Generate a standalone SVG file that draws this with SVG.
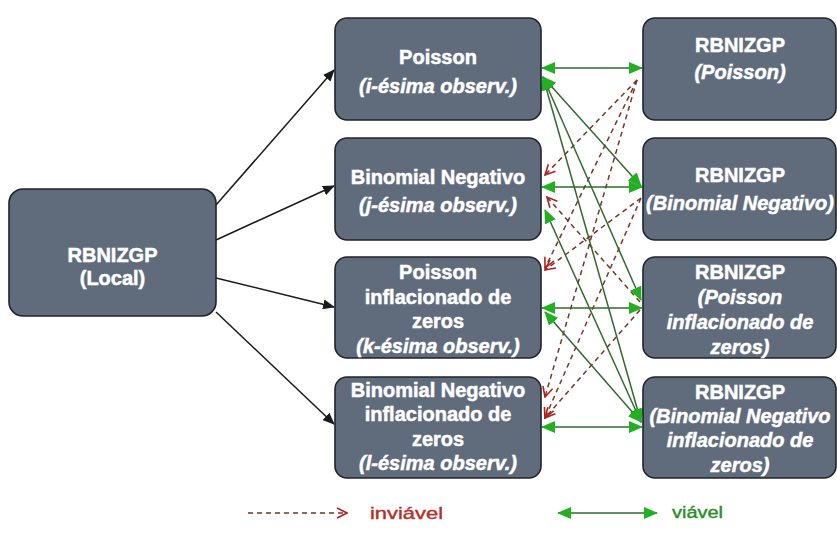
<svg xmlns="http://www.w3.org/2000/svg" width="837" height="549" viewBox="0 0 837 549">
<style>
.box{fill:#606c7c;stroke:#1f2328;stroke-width:1.6}
.t{font-family:"Liberation Sans",Arial,sans-serif;font-size:20px;font-weight:bold;fill:#ffffff;text-anchor:middle;stroke:#ffffff;stroke-width:0.5}
.i{font-style:italic}
.blk{stroke:#1a1a1a;stroke-width:1.5;fill:none;marker-end:url(#ab)}
.grn{stroke:#2f6a2f;stroke-width:1.5;fill:none;marker-start:url(#ag);marker-end:url(#ag)}
.red{stroke:#7a3326;stroke-width:1.5;stroke-dasharray:5 4;fill:none;marker-end:url(#ar)}
.leg{font-family:"Liberation Sans",Arial,sans-serif;font-size:17px;stroke-width:0.4}
</style>
<defs>
<marker id="ab" markerUnits="userSpaceOnUse" markerWidth="12" markerHeight="10" refX="11" refY="5" orient="auto"><path d="M0,0 L12,5 L0,10 z" fill="#1a1a1a"/></marker>
<marker id="ag" markerUnits="userSpaceOnUse" markerWidth="14" markerHeight="12" refX="13" refY="6" orient="auto-start-reverse"><path d="M0,0 L14,6 L0,12 z" fill="#22b022"/></marker>
<marker id="ar" markerUnits="userSpaceOnUse" markerWidth="12" markerHeight="12" refX="11" refY="6" orient="auto"><path d="M1,1 L11,6 L1,11" fill="none" stroke="#b02020" stroke-width="1.6"/></marker>
</defs>
<rect width="837" height="549" fill="#ffffff"/>
<g id="connectors">
<line class="blk" x1="216" y1="205" x2="334" y2="70"/>
<line class="blk" x1="216" y1="240" x2="334" y2="186"/>
<line class="blk" x1="216" y1="278" x2="334" y2="307"/>
<line class="blk" x1="216" y1="312" x2="334" y2="424"/>
<line class="red" x1="637" y1="80" x2="545" y2="175"/>
<line class="red" x1="637" y1="80" x2="545" y2="268"/>
<line class="red" x1="637" y1="80" x2="545" y2="397"/>
<line class="red" x1="641" y1="198" x2="545" y2="270"/>
<line class="red" x1="641" y1="198" x2="545" y2="418"/>
<line class="red" x1="640" y1="302" x2="547" y2="197"/>
<line class="red" x1="640" y1="310" x2="545" y2="418"/>
<line class="grn" x1="542" y1="68" x2="642" y2="68"/>
<line class="grn" x1="542" y1="187" x2="642" y2="187"/>
<line class="grn" x1="542" y1="308" x2="642" y2="308"/>
<line class="grn" x1="542" y1="427" x2="642" y2="427"/>
<line class="grn" x1="543" y1="77" x2="641" y2="186"/>
<line class="grn" x1="543" y1="77" x2="641" y2="300"/>
<line class="grn" x1="543" y1="77" x2="641" y2="422"/>
<line class="grn" x1="545" y1="210" x2="641" y2="422"/>
<line class="grn" x1="545" y1="312" x2="641" y2="422"/>
</g>
<g id="local">
<rect class="box" x="9" y="189" width="207" height="127" rx="14"/>
<text class="t" x="112.5" y="262">RBNIZGP</text>
<text class="t" x="112.5" y="285">(Local)</text>
</g>
<g id="m1">
<rect class="box" x="335" y="18" width="206" height="102" rx="12"/>
<text class="t" x="438" y="64">Poisson</text>
<text class="t i" x="438" y="93">(i-ésima observ.)</text>
</g>
<g id="m2">
<rect class="box" x="335" y="138" width="206" height="102" rx="12"/>
<text class="t" x="438" y="184">Binomial Negativo</text>
<text class="t i" x="438" y="212">(j-ésima observ.)</text>
</g>
<g id="m3">
<rect class="box" x="335" y="257" width="206" height="101" rx="12"/>
<text class="t" x="438" y="279">Poisson</text>
<text class="t" x="438" y="304">inflacionado de</text>
<text class="t" x="438" y="328">zeros</text>
<text class="t i" x="438" y="353">(k-ésima observ.)</text>
</g>
<g id="m4">
<rect class="box" x="335" y="377" width="206" height="101" rx="12"/>
<text class="t" x="438" y="397">Binomial Negativo</text>
<text class="t" x="438" y="421">inflacionado de</text>
<text class="t" x="438" y="446">zeros</text>
<text class="t i" x="438" y="470">(l-ésima observ.)</text>
</g>
<g id="r1">
<rect class="box" x="643" y="18" width="193" height="102" rx="12"/>
<text class="t" x="740" y="52">RBNIZGP</text>
<text class="t i" x="740" y="79">(Poisson)</text>
</g>
<g id="r2">
<rect class="box" x="643" y="138" width="193" height="102" rx="12"/>
<text class="t" x="740" y="182">RBNIZGP</text>
<text class="t i" x="740" y="210">(Binomial Negativo)</text>
</g>
<g id="r3">
<rect class="box" x="643" y="257" width="193" height="101" rx="12"/>
<text class="t" x="740" y="279">RBNIZGP</text>
<text class="t i" x="740" y="304">(Poisson</text>
<text class="t i" x="740" y="329">inflacionado de</text>
<text class="t i" x="740" y="354">zeros)</text>
</g>
<g id="r4">
<rect class="box" x="643" y="377" width="193" height="101" rx="12"/>
<text class="t" x="740" y="399">RBNIZGP</text>
<text class="t i" x="740" y="423">(Binomial Negativo</text>
<text class="t i" x="740" y="447">inflacionado de</text>
<text class="t i" x="740" y="472">zeros)</text>
</g>
<g id="legend">
<line class="red" x1="248" y1="513" x2="347" y2="513"/>
<text class="leg" x="370" y="519" fill="#b3302a" stroke="#b3302a" textLength="73" lengthAdjust="spacingAndGlyphs">inviável</text>
<line class="grn" x1="558" y1="513" x2="657" y2="513"/>
<text class="leg" x="672" y="518" fill="#2b8c2b" stroke="#2b8c2b" textLength="51" lengthAdjust="spacingAndGlyphs">viável</text>
</g>
</svg>
